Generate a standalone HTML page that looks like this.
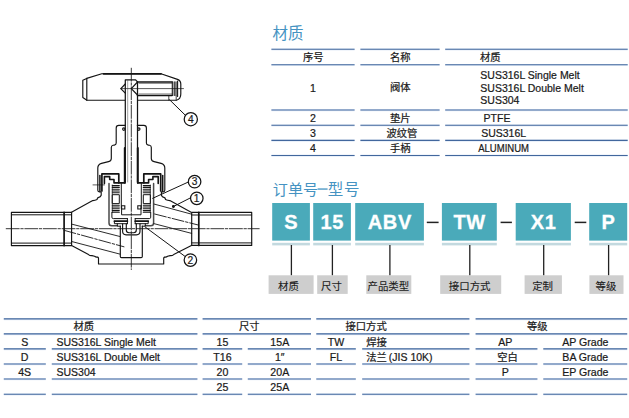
<!DOCTYPE html>
<html><head><meta charset="utf-8"><title>Valve</title>
<style>html,body{margin:0;padding:0;background:#fff}svg{display:block}text{font-family:"Liberation Sans","Noto Sans CJK SC",sans-serif;stroke-width:.22px;stroke:#1a1a1a}text[fill="#ffffff"]{stroke:#fff;stroke-width:.3px}text[fill="#4593c2"]{stroke:none}</style>
</head><body>
<svg width="629" height="418" viewBox="0 0 629 418">
<rect width="629" height="418" fill="#ffffff"/>
<g fill="none" stroke="#141414" stroke-width="1.15" stroke-linecap="round" stroke-linejoin="round">
<path d="M101.8,73.7 L161,73.7 L177.5,79.4 Q180.8,80.6 180.8,84 L180.8,94 Q180.8,99 176.5,100.2 L86.9,100.2 L82.8,97.6 L82.8,80.2 L86.7,78.4 Z" fill="#fff"/>
<path d="M86.8,78.4 L86.8,100.2"/>
<path d="M103.5,73.8 L161,73.8" stroke-width="1.7"/>
<path d="M125.3,182 L125.3,79.9 L135.6,79.9 L137.5,81.9 L137.5,182" fill="#fff" stroke-width="1.25"/>
<path d="M137.5,81.9 L172,81.9 M137.5,95.4 L172,95.4" stroke-width="1.5"/>
<path d="M139,83.4 L172,83.4 M139,93.9 L172,93.9" stroke-width="0.5"/>
<path d="M137.5,82 L131.3,88.6 L137.5,95 M125.3,84 L120.8,88.6 L125.3,93.2" stroke-width="1.2"/>
<path d="M172.3,81.9 L172.3,95.4 M174.2,81.9 L174.2,95.4 M176,81.9 L176,95.4 M177.6,81 L177.6,96.5" stroke-width="1.1"/>
<path d="M168.8,96 L168.8,100.2 M176.2,96 L176.2,100.2" stroke-width="0.8"/>
<path d="M120.8,88.6 L183.5,88.6" stroke-width="0.7"/>
<path d="M169.6,99.8 L185.3,115.2" stroke-width="1.0"/>
<circle cx="190.8" cy="119.2" r="6.6" stroke-width="1.25"/>
<path d="M125.3,125.3 L118.8,125.3 Q116.2,125.3 116.2,128 L116.2,143 Q116.2,144.9 114.4,145.1 L113,145.3 Q111.3,145.6 111.3,147.5 L111.3,158.5 Q111.3,161 108.5,161.6 L101.5,163.4 Q97.8,164.5 97.8,168 L97.8,190.3 Q97.8,191.8 99.3,191.8 L101.2,191.8 L101.2,195.3 Q100.6,197 98.2,197.6 Q97.2,198 97.1,199.5 Q95,200.4 92.8,200.6 L90.9,201.6 L71.5,212.3"/>
<path d=" M137.3,125.3 L143.8,125.3 Q146.4,125.3,146.4,128 L146.4,143 Q146.4,144.9,148.2,145.1 L149.6,145.3 Q151.3,145.6,151.3,147.5 L151.3,158.5 Q151.3,161,154.1,161.6 L161.1,163.4 Q164.8,164.5,164.8,168 L164.8,190.3 Q164.8,191.8,163.3,191.8 L161.4,191.8 L161.4,195.3 Q162.0,197,164.4,197.6 Q165.4,198,165.5,199.5 Q167.6,200.4,169.8,200.6 L171.7,201.6 L191.1,212.3"/>
<circle cx="123.8" cy="129.1" r="1.2"/><circle cx="138.8" cy="129.1" r="1.2"/>
<path d="M124.8,148 L124.8,182.7" stroke-width="2.0"/>
<path d=" M137.8,148 L137.8,182.7" stroke-width="2.0"/>
<path d="M127.7,80.5 L127.7,182" stroke-width="0.5" stroke="#444"/>
<path d="M101.9,191 L101.9,173.9 L118.8,173.9 L118.8,182.9 L124.8,182.9" stroke-width="1.7"/>
<path d=" M160.7,191 L160.7,173.9 L143.8,173.9 L143.8,182.9 L137.8,182.9" stroke-width="1.7"/>
<path d="M104.4,183.5 L104.4,176.6 L109.7,176.6 L109.7,179.5 L114,179.5 L114,182.9 L118.8,182.9" stroke-width="1.6"/>
<path d=" M158.2,183.5 L158.2,176.6 L152.9,176.6 L152.9,179.5 L148.6,179.5 L148.6,182.9 L143.8,182.9" stroke-width="1.6"/>
<path d="M99.9,175.5 L99.9,191.3" stroke-width="1.5"/>
<path d=" M162.7,175.5 L162.7,191.3" stroke-width="1.5"/>
<path d="M93,184.9 L104.5,184.9" stroke-width="0.7"/>
<path d="M109,183.5 L109,223 Q109,225.8 111.8,225.8 L117.3,225.8" stroke="#4a4a4a" stroke-width="1.5"/>
<path d=" M153.6,183.5 L153.6,223 Q153.6,225.8,150.8,225.8 L145.3,225.8" stroke="#4a4a4a" stroke-width="1.5"/>
<path d="M112.3,185.6 L119.3,185.6" stroke-width="1.1"/>
<path d=" M150.3,185.6 L143.3,185.6" stroke-width="1.1"/>
<path d="M112.3,187.4 L119.3,187.4" stroke-width="1.1"/>
<path d=" M150.3,187.4 L143.3,187.4" stroke-width="1.1"/>
<path d="M112.3,189.2 L119.3,189.2" stroke-width="1.1"/>
<path d=" M150.3,189.2 L143.3,189.2" stroke-width="1.1"/>
<path d="M112.3,191.0 L119.3,191.0" stroke-width="1.1"/>
<path d=" M150.3,191.0 L143.3,191.0" stroke-width="1.1"/>
<path d="M112.3,192.8 L119.3,192.8" stroke-width="1.1"/>
<path d=" M150.3,192.8 L143.3,192.8" stroke-width="1.1"/>
<path d="M112.6,194.7 L119.3,194.7 L119.3,203.6 L112.6,203.6 Z" stroke-width="1.0"/>
<path d=" M150.0,194.7 L143.3,194.7 L143.3,203.6 L150.0,203.6 Z" stroke-width="1.0"/>
<path d="M112.3,205.2 L119.3,205.2" stroke-width="1.1"/>
<path d=" M150.3,205.2 L143.3,205.2" stroke-width="1.1"/>
<path d="M112.3,207 L119.3,207" stroke-width="1.1"/>
<path d=" M150.3,207 L143.3,207" stroke-width="1.1"/>
<path d="M112.3,208.8 L119.3,208.8" stroke-width="1.1"/>
<path d=" M150.3,208.8 L143.3,208.8" stroke-width="1.1"/>
<path d="M112.3,210.6 L119.3,210.6" stroke-width="1.1"/>
<path d=" M150.3,210.6 L143.3,210.6" stroke-width="1.1"/>
<path d="M112.3,212.2 L119.3,212.2" stroke-width="1.1"/>
<path d=" M150.3,212.2 L143.3,212.2" stroke-width="1.1"/>
<path d="M112.3,185 L112.3,212.5" stroke-width="0.7"/>
<path d=" M150.3,185 L150.3,212.5" stroke-width="0.7"/>
<path d="M121.3,183.5 L121.3,208.3" stroke-width="1.0"/>
<path d=" M141.3,183.5 L141.3,208.3" stroke-width="1.0"/>
<path d="M121.6,205.8 L124.8,205.8 L124.8,209 L121.6,209 Z" stroke-width="1.1" stroke-linejoin="miter"/>
<path d=" M141.0,205.8 L137.8,205.8 L137.8,209 L141.0,209 Z" stroke-width="1.1" stroke-linejoin="miter"/>
<path d="M121.6,208.4 L121.6,214.8 L141.0,214.8 L141.0,208.4" stroke-width="1.0"/>
<path d="M111.9,212.5 L111.9,217.2 Q111.9,218.6 113.3,218.6 L127.4,218.6" stroke-width="1.0"/>
<path d=" M150.7,212.5 L150.7,217.2 Q150.7,218.6,149.3,218.6 L135.2,218.6" stroke-width="1.0"/>
<path d="M127.4,221.2 L114.4,221.2" stroke-width="1.7"/>
<path d=" M135.2,221.2 L148.2,221.2" stroke-width="1.7"/>
<path d="M114.4,221.2 L114.4,223.7 L127.4,223.7" stroke-width="1.0"/>
<path d=" M148.2,221.2 L148.2,223.7 L135.2,223.7" stroke-width="1.0"/>
<path d="M127.4,218.6 L127.4,223.7" stroke-width="1.0"/>
<path d=" M135.2,218.6 L135.2,223.7" stroke-width="1.0"/>
<path d="M117.3,223.7 L117.3,226.2 L120.4,226.2" stroke-width="1.0"/>
<path d=" M145.3,223.7 L145.3,226.2 L142.2,226.2" stroke-width="1.0"/>
<path d="M122.6,223.7 L122.6,231.3 Q122.6,234.8 126.1,234.8 L136.5,234.8 Q140.0,234.8 140.0,231.3 L140.0,223.7"/>
<path d="M126.3,223.7 L126.3,230 Q126.3,232.7 129,232.7 L133.6,232.7 Q136.3,232.7 136.3,230 L136.3,223.7"/>
<path d="M120.3,226 L120.3,256.4 Q120.3,257.6 121.5,257.6 L141.1,257.6 Q142.3,257.6 142.3,256.4 L142.3,226"/>
<path d="M71.6,212.3 L11.4,212.3 L11.4,245.6 L71.6,245.6 Z"/>
<path d="M11.4,214.8 L71.6,214.8 M11.4,243.1 L71.6,243.1" stroke-width="1.0"/>
<path d="M64.1,212.3 L64.1,245.6" stroke-width="1.7"/>
<path d="M191.7,212.3 L251.7,212.3 L251.7,245.4 L191.7,245.4 Z"/>
<path d="M191.7,215 L251.7,215 M191.7,242.9 L251.7,242.9" stroke-width="1.0"/>
<path d="M198.8,212.3 L198.8,245.4" stroke-width="1.7"/>
<path d="M71.6,245.6 L88.5,254.6 Q90.2,256 92,255.6 L94.6,256.3 Q96,257.4 97.6,257 L98.5,258 L98.5,264 L163.7,264 L163.7,258 L164.6,257 Q166.2,257.4 167.6,256.3 L170.2,255.6 Q172,256 173.7,254.6 L191.4,245.6"/>
<path d="M71.6,224.1 L119.9,236.5 M71.6,241.5 L119.9,254.1 M154.2,204.1 L191.7,214.2 M153.8,223.6 L191.7,233.4" stroke-width="0.9"/>
<path d="M64,230.3 L124,246.8 M154.6,214 L198.6,225.1" stroke-width="0.9" stroke-dasharray="12 1.8 2.5 1.8"/>
<path d="M131.3,68.2 L131.3,269.5" stroke-width="0.85" stroke-dasharray="13 1.6 2.4 1.6"/>
<path d="M6.2,228.7 L259.2,228.7" stroke-width="0.85" stroke-dasharray="13 1.6 2.4 1.6"/>
<path d="M188.4,182 L152.7,198.3 M190.6,197.8 L173.7,206.4 M185.3,256.6 L145.2,227" stroke-width="1.0"/>
<circle cx="194.6" cy="181.7" r="6.25" stroke-width="1.25"/><circle cx="196.8" cy="198.3" r="6.25" stroke-width="1.25"/><circle cx="190.4" cy="260.1" r="6.25" stroke-width="1.25"/>
<circle cx="173.4" cy="206.5" r="0.9" fill="#141414"/>
</g>
<text x="190.8" y="122.8" font-size="10.2" text-anchor="middle" fill="#1c1c1c">4</text>
<text x="194.6" y="185.4" font-size="10.2" text-anchor="middle" fill="#1c1c1c">3</text>
<text x="196.6" y="202" font-size="10.2" text-anchor="middle" fill="#1c1c1c">1</text>
<text x="190.4" y="263.8" font-size="10.2" text-anchor="middle" fill="#1c1c1c">2</text>
<text x="272.40" y="38.73" font-size="15.5" text-anchor="start" fill="#4593c2">材质</text>
<line x1="271.4" y1="49.40" x2="354.6" y2="49.40" stroke="#e3ecf8" stroke-width="2.2"/>
<line x1="271.4" y1="49.20" x2="354.6" y2="49.20" stroke="#42679d" stroke-width="1.1"/>
<line x1="360.4" y1="49.40" x2="439.6" y2="49.40" stroke="#e3ecf8" stroke-width="2.2"/>
<line x1="360.4" y1="49.20" x2="439.6" y2="49.20" stroke="#42679d" stroke-width="1.1"/>
<line x1="445.2" y1="49.40" x2="627.7" y2="49.40" stroke="#e3ecf8" stroke-width="2.2"/>
<line x1="445.2" y1="49.20" x2="627.7" y2="49.20" stroke="#42679d" stroke-width="1.1"/>
<line x1="271.4" y1="65.00" x2="354.6" y2="65.00" stroke="#e3ecf8" stroke-width="2.2"/>
<line x1="271.4" y1="64.80" x2="354.6" y2="64.80" stroke="#42679d" stroke-width="1.1"/>
<line x1="360.4" y1="65.00" x2="439.6" y2="65.00" stroke="#e3ecf8" stroke-width="2.2"/>
<line x1="360.4" y1="64.80" x2="439.6" y2="64.80" stroke="#42679d" stroke-width="1.1"/>
<line x1="445.2" y1="65.00" x2="627.7" y2="65.00" stroke="#e3ecf8" stroke-width="2.2"/>
<line x1="445.2" y1="64.80" x2="627.7" y2="64.80" stroke="#42679d" stroke-width="1.1"/>
<line x1="271.4" y1="110.20" x2="354.6" y2="110.20" stroke="#e3ecf8" stroke-width="2.2"/>
<line x1="271.4" y1="110.00" x2="354.6" y2="110.00" stroke="#42679d" stroke-width="1.1"/>
<line x1="360.4" y1="110.20" x2="439.6" y2="110.20" stroke="#e3ecf8" stroke-width="2.2"/>
<line x1="360.4" y1="110.00" x2="439.6" y2="110.00" stroke="#42679d" stroke-width="1.1"/>
<line x1="445.2" y1="110.20" x2="627.7" y2="110.20" stroke="#e3ecf8" stroke-width="2.2"/>
<line x1="445.2" y1="110.00" x2="627.7" y2="110.00" stroke="#42679d" stroke-width="1.1"/>
<line x1="271.4" y1="125.50" x2="354.6" y2="125.50" stroke="#e3ecf8" stroke-width="2.2"/>
<line x1="271.4" y1="125.30" x2="354.6" y2="125.30" stroke="#42679d" stroke-width="1.1"/>
<line x1="360.4" y1="125.50" x2="439.6" y2="125.50" stroke="#e3ecf8" stroke-width="2.2"/>
<line x1="360.4" y1="125.30" x2="439.6" y2="125.30" stroke="#42679d" stroke-width="1.1"/>
<line x1="445.2" y1="125.50" x2="627.7" y2="125.50" stroke="#e3ecf8" stroke-width="2.2"/>
<line x1="445.2" y1="125.30" x2="627.7" y2="125.30" stroke="#42679d" stroke-width="1.1"/>
<line x1="271.4" y1="140.60" x2="354.6" y2="140.60" stroke="#e3ecf8" stroke-width="2.2"/>
<line x1="271.4" y1="140.40" x2="354.6" y2="140.40" stroke="#42679d" stroke-width="1.1"/>
<line x1="360.4" y1="140.60" x2="439.6" y2="140.60" stroke="#e3ecf8" stroke-width="2.2"/>
<line x1="360.4" y1="140.40" x2="439.6" y2="140.40" stroke="#42679d" stroke-width="1.1"/>
<line x1="445.2" y1="140.60" x2="627.7" y2="140.60" stroke="#e3ecf8" stroke-width="2.2"/>
<line x1="445.2" y1="140.40" x2="627.7" y2="140.40" stroke="#42679d" stroke-width="1.1"/>
<line x1="271.4" y1="155.70" x2="354.6" y2="155.70" stroke="#e3ecf8" stroke-width="2.2"/>
<line x1="271.4" y1="155.50" x2="354.6" y2="155.50" stroke="#42679d" stroke-width="1.1"/>
<line x1="360.4" y1="155.70" x2="439.6" y2="155.70" stroke="#e3ecf8" stroke-width="2.2"/>
<line x1="360.4" y1="155.50" x2="439.6" y2="155.50" stroke="#42679d" stroke-width="1.1"/>
<line x1="445.2" y1="155.70" x2="627.7" y2="155.70" stroke="#e3ecf8" stroke-width="2.2"/>
<line x1="445.2" y1="155.50" x2="627.7" y2="155.50" stroke="#42679d" stroke-width="1.1"/>
<text x="303.00" y="60.78" font-size="10.3" text-anchor="start" fill="#1a1a1a">序号</text>
<text x="390.00" y="60.78" font-size="10.3" text-anchor="start" fill="#1a1a1a">名称</text>
<text x="480.00" y="61.08" font-size="10.3" text-anchor="start" fill="#1a1a1a">材质</text>
<text x="313.00" y="91.50" font-size="10.6" text-anchor="middle" fill="#1a1a1a" font-weight="normal">1</text>
<text x="313.00" y="121.60" font-size="10.6" text-anchor="middle" fill="#1a1a1a" font-weight="normal">2</text>
<text x="313.00" y="136.70" font-size="10.6" text-anchor="middle" fill="#1a1a1a" font-weight="normal">3</text>
<text x="313.00" y="151.70" font-size="10.6" text-anchor="middle" fill="#1a1a1a" font-weight="normal">4</text>
<text x="390.00" y="91.28" font-size="10.3" text-anchor="start" fill="#1a1a1a">阀体</text>
<text x="390.00" y="121.58" font-size="10.3" text-anchor="start" fill="#1a1a1a">垫片</text>
<text x="386.50" y="136.58" font-size="10.3" text-anchor="start" fill="#1a1a1a">波纹管</text>
<text x="390.00" y="151.58" font-size="10.3" text-anchor="start" fill="#1a1a1a">手柄</text>
<text x="480.30" y="79.30" font-size="10.5" text-anchor="start" fill="#1a1a1a" font-weight="normal">SUS316L Single Melt</text>
<text x="480.30" y="91.60" font-size="10.5" text-anchor="start" fill="#1a1a1a" font-weight="normal">SUS316L Double Melt</text>
<text x="480.30" y="103.80" font-size="10.5" text-anchor="start" fill="#1a1a1a" font-weight="normal">SUS304</text>
<text x="483.60" y="121.60" font-size="10.5" text-anchor="start" fill="#1a1a1a" font-weight="normal">PTFE</text>
<text x="481.20" y="136.70" font-size="10.5" text-anchor="start" fill="#1a1a1a" font-weight="normal">SUS316L</text>
<text x="478.20" y="151.70" font-size="10.5" text-anchor="start" fill="#1a1a1a" font-weight="normal" textLength="50.8" lengthAdjust="spacingAndGlyphs">ALUMINUM</text>
<text x="272.80" y="195.08" font-size="15.1" text-anchor="start" fill="#4593c2">订单号</text>
<rect x="317.6" y="188.4" width="10" height="1.3" fill="#4593c2"/>
<text x="327.80" y="195.08" font-size="15.5" letter-spacing="0.8" text-anchor="start" fill="#4593c2">型号</text>
<rect x="272.2" y="203.0" width="37.7" height="37.6" fill="#4aaaba"/>
<rect x="272.2" y="242.8" width="37.7" height="2.6" fill="#c3d9df"/>
<text x="291.35" y="229.40" font-size="20" text-anchor="middle" fill="#ffffff" font-weight="bold" letter-spacing="0.7">S</text>
<line x1="291.4" y1="245" x2="291.4" y2="275.5" stroke="#222" stroke-width="1.3"/>
<rect x="313.2" y="203.0" width="37.7" height="37.6" fill="#4aaaba"/>
<rect x="313.2" y="242.8" width="37.7" height="2.6" fill="#c3d9df"/>
<text x="332.35" y="229.40" font-size="20" text-anchor="middle" fill="#ffffff" font-weight="bold" letter-spacing="0.7">15</text>
<line x1="332.4" y1="245" x2="332.4" y2="275.5" stroke="#222" stroke-width="1.3"/>
<rect x="355.2" y="203.0" width="68.7" height="37.6" fill="#4aaaba"/>
<rect x="355.2" y="242.8" width="68.7" height="2.6" fill="#c3d9df"/>
<text x="389.85" y="229.40" font-size="20" text-anchor="middle" fill="#ffffff" font-weight="bold" letter-spacing="0.7">ABV</text>
<line x1="389.9" y1="245" x2="389.9" y2="275.5" stroke="#222" stroke-width="1.3"/>
<rect x="441.9" y="203.0" width="54.9" height="37.6" fill="#4aaaba"/>
<rect x="441.9" y="242.8" width="54.9" height="2.6" fill="#c3d9df"/>
<text x="469.65" y="229.40" font-size="20" text-anchor="middle" fill="#ffffff" font-weight="bold" letter-spacing="0.7">TW</text>
<line x1="469.8" y1="245" x2="469.8" y2="275.5" stroke="#222" stroke-width="1.3"/>
<rect x="515.7" y="203.0" width="55.2" height="37.6" fill="#4aaaba"/>
<rect x="515.7" y="242.8" width="55.2" height="2.6" fill="#c3d9df"/>
<text x="543.60" y="229.40" font-size="20" text-anchor="middle" fill="#ffffff" font-weight="bold" letter-spacing="0.7">X1</text>
<line x1="543.7" y1="245" x2="543.7" y2="275.5" stroke="#222" stroke-width="1.3"/>
<rect x="589.2" y="203.0" width="38.0" height="37.6" fill="#4aaaba"/>
<rect x="589.2" y="242.8" width="38.0" height="2.6" fill="#c3d9df"/>
<text x="608.50" y="229.40" font-size="20" text-anchor="middle" fill="#ffffff" font-weight="bold" letter-spacing="0.7">P</text>
<line x1="608.6" y1="245" x2="608.6" y2="275.5" stroke="#222" stroke-width="1.3"/>
<line x1="426.8" y1="222.4" x2="438.6" y2="222.4" stroke="#222" stroke-width="1.5"/>
<line x1="500.6" y1="222.4" x2="511.9" y2="222.4" stroke="#222" stroke-width="1.5"/>
<line x1="574.7" y1="222.4" x2="586.3" y2="222.4" stroke="#222" stroke-width="1.5"/>
<rect x="268.6" y="275.3" width="45.0" height="18.6" fill="#cecece"/>
<text x="278.00" y="289.52" font-size="10.45" text-anchor="start" fill="#1a1a1a" style="stroke-width:.11px">材质</text>
<rect x="317.2" y="275.3" width="30.5" height="18.6" fill="#cecece"/>
<text x="321.00" y="289.52" font-size="10.45" text-anchor="start" fill="#1a1a1a" style="stroke-width:.11px">尺寸</text>
<rect x="366.3" y="275.3" width="45.0" height="18.6" fill="#cecece"/>
<text x="367.50" y="289.52" font-size="10.45" text-anchor="start" fill="#1a1a1a" style="stroke-width:.11px">产品类型</text>
<rect x="440.2" y="275.3" width="61.0" height="18.6" fill="#cecece"/>
<text x="448.80" y="289.52" font-size="10.45" text-anchor="start" fill="#1a1a1a" style="stroke-width:.11px">接口方式</text>
<rect x="524.6" y="275.3" width="37.3" height="18.6" fill="#cecece"/>
<text x="532.20" y="289.52" font-size="10.45" text-anchor="start" fill="#1a1a1a" style="stroke-width:.11px">定制</text>
<rect x="589.4" y="275.3" width="34.1" height="18.6" fill="#cecece"/>
<text x="595.50" y="289.52" font-size="10.45" text-anchor="start" fill="#1a1a1a" style="stroke-width:.11px">等级</text>
<line x1="3.8" y1="319.10" x2="197.4" y2="319.10" stroke="#e3ecf8" stroke-width="2.2"/>
<line x1="3.8" y1="318.90" x2="197.4" y2="318.90" stroke="#42679d" stroke-width="1.1"/>
<line x1="3.8" y1="334.10" x2="197.4" y2="334.10" stroke="#e3ecf8" stroke-width="2.2"/>
<line x1="3.8" y1="333.90" x2="197.4" y2="333.90" stroke="#42679d" stroke-width="1.1"/>
<line x1="3.8" y1="349.10" x2="45.8" y2="349.10" stroke="#e3ecf8" stroke-width="2.2"/>
<line x1="3.8" y1="348.90" x2="45.8" y2="348.90" stroke="#42679d" stroke-width="1.1"/>
<line x1="51.8" y1="349.10" x2="197.4" y2="349.10" stroke="#e3ecf8" stroke-width="2.2"/>
<line x1="51.8" y1="348.90" x2="197.4" y2="348.90" stroke="#42679d" stroke-width="1.1"/>
<line x1="3.8" y1="364.20" x2="45.8" y2="364.20" stroke="#e3ecf8" stroke-width="2.2"/>
<line x1="3.8" y1="364.00" x2="45.8" y2="364.00" stroke="#42679d" stroke-width="1.1"/>
<line x1="51.8" y1="364.20" x2="197.4" y2="364.20" stroke="#e3ecf8" stroke-width="2.2"/>
<line x1="51.8" y1="364.00" x2="197.4" y2="364.00" stroke="#42679d" stroke-width="1.1"/>
<line x1="3.8" y1="379.20" x2="45.8" y2="379.20" stroke="#e3ecf8" stroke-width="2.2"/>
<line x1="3.8" y1="379.00" x2="45.8" y2="379.00" stroke="#42679d" stroke-width="1.1"/>
<line x1="51.8" y1="379.20" x2="197.4" y2="379.20" stroke="#e3ecf8" stroke-width="2.2"/>
<line x1="51.8" y1="379.00" x2="197.4" y2="379.00" stroke="#42679d" stroke-width="1.1"/>
<line x1="3.8" y1="394.40" x2="45.8" y2="394.40" stroke="#e3ecf8" stroke-width="2.2"/>
<line x1="3.8" y1="394.20" x2="45.8" y2="394.20" stroke="#42679d" stroke-width="1.1"/>
<line x1="51.8" y1="394.40" x2="197.4" y2="394.40" stroke="#e3ecf8" stroke-width="2.2"/>
<line x1="51.8" y1="394.20" x2="197.4" y2="394.20" stroke="#42679d" stroke-width="1.1"/>
<line x1="202.6" y1="319.10" x2="311.0" y2="319.10" stroke="#e3ecf8" stroke-width="2.2"/>
<line x1="202.6" y1="318.90" x2="311.0" y2="318.90" stroke="#42679d" stroke-width="1.1"/>
<line x1="202.6" y1="334.10" x2="311.0" y2="334.10" stroke="#e3ecf8" stroke-width="2.2"/>
<line x1="202.6" y1="333.90" x2="311.0" y2="333.90" stroke="#42679d" stroke-width="1.1"/>
<line x1="202.6" y1="349.10" x2="242.2" y2="349.10" stroke="#e3ecf8" stroke-width="2.2"/>
<line x1="202.6" y1="348.90" x2="242.2" y2="348.90" stroke="#42679d" stroke-width="1.1"/>
<line x1="247.8" y1="349.10" x2="311.0" y2="349.10" stroke="#e3ecf8" stroke-width="2.2"/>
<line x1="247.8" y1="348.90" x2="311.0" y2="348.90" stroke="#42679d" stroke-width="1.1"/>
<line x1="202.6" y1="364.20" x2="242.2" y2="364.20" stroke="#e3ecf8" stroke-width="2.2"/>
<line x1="202.6" y1="364.00" x2="242.2" y2="364.00" stroke="#42679d" stroke-width="1.1"/>
<line x1="247.8" y1="364.20" x2="311.0" y2="364.20" stroke="#e3ecf8" stroke-width="2.2"/>
<line x1="247.8" y1="364.00" x2="311.0" y2="364.00" stroke="#42679d" stroke-width="1.1"/>
<line x1="202.6" y1="379.20" x2="242.2" y2="379.20" stroke="#e3ecf8" stroke-width="2.2"/>
<line x1="202.6" y1="379.00" x2="242.2" y2="379.00" stroke="#42679d" stroke-width="1.1"/>
<line x1="247.8" y1="379.20" x2="311.0" y2="379.20" stroke="#e3ecf8" stroke-width="2.2"/>
<line x1="247.8" y1="379.00" x2="311.0" y2="379.00" stroke="#42679d" stroke-width="1.1"/>
<line x1="202.6" y1="394.40" x2="242.2" y2="394.40" stroke="#e3ecf8" stroke-width="2.2"/>
<line x1="202.6" y1="394.20" x2="242.2" y2="394.20" stroke="#42679d" stroke-width="1.1"/>
<line x1="247.8" y1="394.40" x2="311.0" y2="394.40" stroke="#e3ecf8" stroke-width="2.2"/>
<line x1="247.8" y1="394.20" x2="311.0" y2="394.20" stroke="#42679d" stroke-width="1.1"/>
<line x1="316.3" y1="319.10" x2="469.4" y2="319.10" stroke="#e3ecf8" stroke-width="2.2"/>
<line x1="316.3" y1="318.90" x2="469.4" y2="318.90" stroke="#42679d" stroke-width="1.1"/>
<line x1="316.3" y1="334.10" x2="469.4" y2="334.10" stroke="#e3ecf8" stroke-width="2.2"/>
<line x1="316.3" y1="333.90" x2="469.4" y2="333.90" stroke="#42679d" stroke-width="1.1"/>
<line x1="316.3" y1="349.10" x2="355.8" y2="349.10" stroke="#e3ecf8" stroke-width="2.2"/>
<line x1="316.3" y1="348.90" x2="355.8" y2="348.90" stroke="#42679d" stroke-width="1.1"/>
<line x1="362.2" y1="349.10" x2="469.4" y2="349.10" stroke="#e3ecf8" stroke-width="2.2"/>
<line x1="362.2" y1="348.90" x2="469.4" y2="348.90" stroke="#42679d" stroke-width="1.1"/>
<line x1="316.3" y1="364.20" x2="355.8" y2="364.20" stroke="#e3ecf8" stroke-width="2.2"/>
<line x1="316.3" y1="364.00" x2="355.8" y2="364.00" stroke="#42679d" stroke-width="1.1"/>
<line x1="362.2" y1="364.20" x2="469.4" y2="364.20" stroke="#e3ecf8" stroke-width="2.2"/>
<line x1="362.2" y1="364.00" x2="469.4" y2="364.00" stroke="#42679d" stroke-width="1.1"/>
<line x1="316.3" y1="379.20" x2="355.8" y2="379.20" stroke="#e3ecf8" stroke-width="2.2"/>
<line x1="316.3" y1="379.00" x2="355.8" y2="379.00" stroke="#42679d" stroke-width="1.1"/>
<line x1="362.2" y1="379.20" x2="469.4" y2="379.20" stroke="#e3ecf8" stroke-width="2.2"/>
<line x1="362.2" y1="379.00" x2="469.4" y2="379.00" stroke="#42679d" stroke-width="1.1"/>
<line x1="316.3" y1="394.40" x2="355.8" y2="394.40" stroke="#e3ecf8" stroke-width="2.2"/>
<line x1="316.3" y1="394.20" x2="355.8" y2="394.20" stroke="#42679d" stroke-width="1.1"/>
<line x1="362.2" y1="394.40" x2="469.4" y2="394.40" stroke="#e3ecf8" stroke-width="2.2"/>
<line x1="362.2" y1="394.20" x2="469.4" y2="394.20" stroke="#42679d" stroke-width="1.1"/>
<line x1="475.6" y1="319.10" x2="627.2" y2="319.10" stroke="#e3ecf8" stroke-width="2.2"/>
<line x1="475.6" y1="318.90" x2="627.2" y2="318.90" stroke="#42679d" stroke-width="1.1"/>
<line x1="475.6" y1="334.10" x2="627.2" y2="334.10" stroke="#e3ecf8" stroke-width="2.2"/>
<line x1="475.6" y1="333.90" x2="627.2" y2="333.90" stroke="#42679d" stroke-width="1.1"/>
<line x1="475.6" y1="349.10" x2="537.4" y2="349.10" stroke="#e3ecf8" stroke-width="2.2"/>
<line x1="475.6" y1="348.90" x2="537.4" y2="348.90" stroke="#42679d" stroke-width="1.1"/>
<line x1="543.3" y1="349.10" x2="627.2" y2="349.10" stroke="#e3ecf8" stroke-width="2.2"/>
<line x1="543.3" y1="348.90" x2="627.2" y2="348.90" stroke="#42679d" stroke-width="1.1"/>
<line x1="475.6" y1="364.20" x2="537.4" y2="364.20" stroke="#e3ecf8" stroke-width="2.2"/>
<line x1="475.6" y1="364.00" x2="537.4" y2="364.00" stroke="#42679d" stroke-width="1.1"/>
<line x1="543.3" y1="364.20" x2="627.2" y2="364.20" stroke="#e3ecf8" stroke-width="2.2"/>
<line x1="543.3" y1="364.00" x2="627.2" y2="364.00" stroke="#42679d" stroke-width="1.1"/>
<line x1="475.6" y1="379.20" x2="537.4" y2="379.20" stroke="#e3ecf8" stroke-width="2.2"/>
<line x1="475.6" y1="379.00" x2="537.4" y2="379.00" stroke="#42679d" stroke-width="1.1"/>
<line x1="543.3" y1="379.20" x2="627.2" y2="379.20" stroke="#e3ecf8" stroke-width="2.2"/>
<line x1="543.3" y1="379.00" x2="627.2" y2="379.00" stroke="#42679d" stroke-width="1.1"/>
<line x1="475.6" y1="394.40" x2="537.4" y2="394.40" stroke="#e3ecf8" stroke-width="2.2"/>
<line x1="475.6" y1="394.20" x2="537.4" y2="394.20" stroke="#42679d" stroke-width="1.1"/>
<line x1="543.3" y1="394.40" x2="627.2" y2="394.40" stroke="#e3ecf8" stroke-width="2.2"/>
<line x1="543.3" y1="394.20" x2="627.2" y2="394.20" stroke="#42679d" stroke-width="1.1"/>
<text x="73.50" y="330.38" font-size="10.3" text-anchor="start" fill="#1a1a1a">材质</text>
<text x="239.00" y="330.38" font-size="10.3" text-anchor="start" fill="#1a1a1a">尺寸</text>
<text x="345.50" y="330.38" font-size="10.3" text-anchor="start" fill="#1a1a1a">接口方式</text>
<text x="527.00" y="330.38" font-size="10.3" text-anchor="start" fill="#1a1a1a">等级</text>
<text x="24.70" y="345.70" font-size="10.6" text-anchor="middle" fill="#1a1a1a" font-weight="normal">S</text>
<text x="24.70" y="360.80" font-size="10.6" text-anchor="middle" fill="#1a1a1a" font-weight="normal">D</text>
<text x="24.70" y="375.80" font-size="10.6" text-anchor="middle" fill="#1a1a1a" font-weight="normal">4S</text>
<text x="56.50" y="345.70" font-size="10.5" text-anchor="start" fill="#1a1a1a" font-weight="normal">SUS316L Single Melt</text>
<text x="56.50" y="360.80" font-size="10.5" text-anchor="start" fill="#1a1a1a" font-weight="normal">SUS316L Double Melt</text>
<text x="56.50" y="375.80" font-size="10.5" text-anchor="start" fill="#1a1a1a" font-weight="normal">SUS304</text>
<text x="222.40" y="345.70" font-size="10.6" text-anchor="middle" fill="#1a1a1a" font-weight="normal">15</text>
<text x="279.80" y="345.70" font-size="10.6" text-anchor="middle" fill="#1a1a1a" font-weight="normal">15A</text>
<text x="222.40" y="360.80" font-size="10.6" text-anchor="middle" fill="#1a1a1a" font-weight="normal">T16</text>
<text x="279.80" y="360.80" font-size="10.6" text-anchor="middle" fill="#1a1a1a" font-weight="normal">1&#8243;</text>
<text x="222.40" y="375.80" font-size="10.6" text-anchor="middle" fill="#1a1a1a" font-weight="normal">20</text>
<text x="279.80" y="375.80" font-size="10.6" text-anchor="middle" fill="#1a1a1a" font-weight="normal">20A</text>
<text x="222.40" y="390.80" font-size="10.6" text-anchor="middle" fill="#1a1a1a" font-weight="normal">25</text>
<text x="279.80" y="390.80" font-size="10.6" text-anchor="middle" fill="#1a1a1a" font-weight="normal">25A</text>
<text x="336.00" y="345.70" font-size="10.6" text-anchor="middle" fill="#1a1a1a" font-weight="normal">TW</text>
<text x="336.00" y="360.80" font-size="10.6" text-anchor="middle" fill="#1a1a1a" font-weight="normal">FL</text>
<text x="366.30" y="345.58" font-size="10.3" text-anchor="start" fill="#1a1a1a">焊接</text>
<text x="366.30" y="360.58" font-size="10.3" text-anchor="start" fill="#1a1a1a">法兰</text>
<text x="388.80" y="360.80" font-size="10.5" text-anchor="start" fill="#1a1a1a" font-weight="normal">(JIS 10K)</text>
<text x="505.30" y="345.70" font-size="10.6" text-anchor="middle" fill="#1a1a1a" font-weight="normal">AP</text>
<text x="505.30" y="375.80" font-size="10.6" text-anchor="middle" fill="#1a1a1a" font-weight="normal">P</text>
<text x="497.30" y="360.58" font-size="10.3" text-anchor="start" fill="#1a1a1a">空白</text>
<text x="585.30" y="345.70" font-size="10.6" text-anchor="middle" fill="#1a1a1a" font-weight="normal">AP Grade</text>
<text x="585.30" y="360.80" font-size="10.6" text-anchor="middle" fill="#1a1a1a" font-weight="normal">BA Grade</text>
<text x="585.30" y="375.80" font-size="10.6" text-anchor="middle" fill="#1a1a1a" font-weight="normal">EP Grade</text>
</svg>
</body></html>
